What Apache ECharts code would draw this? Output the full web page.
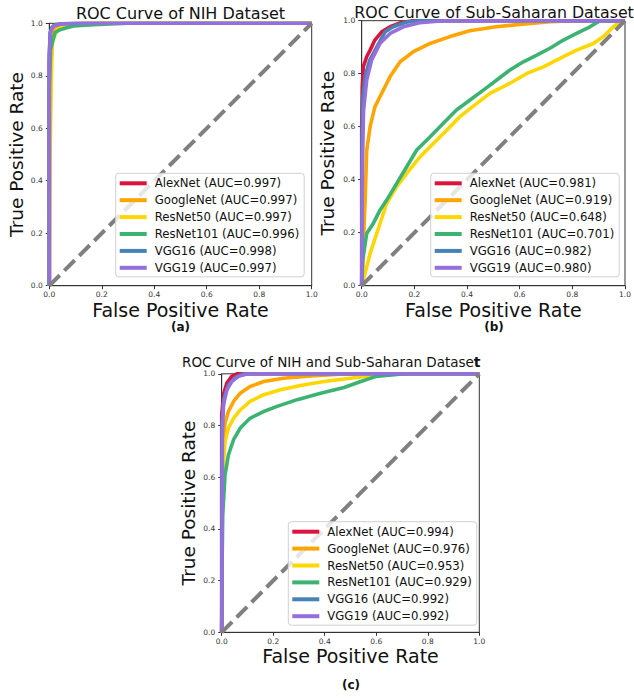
<!DOCTYPE html>
<html><head><meta charset="utf-8">
<script src="https://cdn.jsdelivr.net/npm/echarts@6/dist/echarts.min.js"></script>
<style>html,body{margin:0;padding:0;background:#fff}#c{width:634px;height:699px}</style>
</head><body><div id="c"></div>
<script>
const models = ['AlexNet','GoogleNet','ResNet50','ResNet101','VGG16','VGG19'];
const colors = ['#dc143c','#ffa500','#ffd700','#3cb371','#4682b4','#9370db'];
const tickLabels = ['0.0','0.2','0.4','0.6','0.8','1.0'];
const aucA = ['0.997','0.997','0.997','0.996','0.998','0.997'];
const aucB = ['0.981','0.919','0.648','0.701','0.982','0.980'];
const aucC = ['0.994','0.976','0.953','0.929','0.992','0.992'];
const panelLabels = ['(a)','(b)','(c)'];
const xName = 'False Positive Rate';
const yName = 'True Positive Rate';
const diagonal = [[0,0],[1,1]];

// (a) NIH dataset
const nihAlexNet   = [[0,0],[0,0.85],[0.003,0.95],[0.01,0.975],[0.02,0.988],[0.04,0.995],[0.08,0.998],[0.15,1],[1,1]];
const nihGoogleNet = [[0,0],[0,0.8],[0.004,0.94],[0.012,0.972],[0.025,0.985],[0.05,0.993],[0.1,0.998],[0.2,1],[1,1]];
const nihResNet50  = [[0,0],[0.003,0.5],[0.008,0.8],[0.012,0.93],[0.03,0.975],[0.06,0.99],[0.12,0.997],[0.2,1],[1,1]];
const nihResNet101 = [[0,0],[0,0.75],[0.005,0.9],[0.015,0.94],[0.022,0.965],[0.04,0.975],[0.066,0.983],[0.092,0.99],[0.168,0.995],[0.3,1],[1,1]];
const nihVGG16     = [[0,0],[0,0.88],[0.003,0.96],[0.01,0.985],[0.025,0.995],[0.06,0.999],[0.12,1],[1,1]];
const nihVGG19     = [[0,0],[0,0.84],[0.003,0.964],[0.015,0.99],[0.04,0.997],[0.1,1],[1,1]];

// (b) Sub-Saharan dataset
const ssAlexNet   = [[0,0],[0,0.6],[0.002,0.75],[0.006,0.826],[0.019,0.864],[0.032,0.889],[0.05,0.927],[0.076,0.958],[0.108,0.977],[0.146,0.992],[0.196,1],[1,1]];
const ssGoogleNet = [[0,0],[0.005,0.1],[0.01,0.25],[0.013,0.32],[0.019,0.51],[0.032,0.6],[0.05,0.675],[0.076,0.726],[0.108,0.789],[0.146,0.845],[0.196,0.883],[0.26,0.914],[0.335,0.94],[0.41,0.962],[0.51,0.977],[0.61,0.987],[0.715,0.996],[0.816,1],[1,1]];
const ssResNet50  = [[0,0],[0.013,0.047],[0.032,0.122],[0.057,0.197],[0.095,0.311],[0.133,0.374],[0.171,0.424],[0.222,0.487],[0.272,0.537],[0.323,0.587],[0.373,0.638],[0.437,0.688],[0.487,0.726],[0.563,0.764],[0.627,0.801],[0.69,0.826],[0.753,0.858],[0.816,0.889],[0.88,0.914],[0.918,0.94],[0.956,0.977],[0.987,1],[1,1]];
const ssResNet101 = [[0,0],[0.004,0.097],[0.019,0.197],[0.044,0.235],[0.07,0.286],[0.095,0.323],[0.133,0.386],[0.171,0.449],[0.209,0.512],[0.26,0.562],[0.31,0.613],[0.36,0.663],[0.41,0.7],[0.462,0.738],[0.513,0.776],[0.563,0.814],[0.614,0.845],[0.665,0.87],[0.715,0.896],[0.766,0.927],[0.816,0.952],[0.867,0.977],[0.905,1],[1,1]];
const ssVGG16     = [[0,0],[0.001,0.55],[0.003,0.7],[0.013,0.79],[0.03,0.85],[0.057,0.9],[0.089,0.958],[0.12,0.977],[0.17,0.995],[0.22,1],[1,1]];
const ssVGG19     = [[0,0],[0.002,0.35],[0.004,0.51],[0.007,0.66],[0.019,0.776],[0.038,0.852],[0.07,0.915],[0.108,0.952],[0.158,0.977],[0.22,0.992],[0.31,1],[1,1]];

// (c) NIH + Sub-Saharan dataset
const allAlexNet   = [[0,0],[0,0.84],[0.007,0.92],[0.02,0.964],[0.039,0.99],[0.059,1],[1,1]];
const allGoogleNet = [[0,0],[0.002,0.5],[0.004,0.712],[0.013,0.81],[0.026,0.854],[0.046,0.893],[0.072,0.925],[0.11,0.951],[0.163,0.97],[0.24,0.983],[0.345,0.992],[0.475,0.999],[0.6,1],[1,1]];
const allResNet50  = [[0,0],[0.002,0.45],[0.004,0.61],[0.013,0.738],[0.026,0.79],[0.046,0.828],[0.072,0.86],[0.11,0.893],[0.163,0.919],[0.228,0.938],[0.306,0.955],[0.397,0.97],[0.5,0.983],[0.58,0.993],[0.66,1],[1,1]];
const allResNet101 = [[0,0],[0.002,0.3],[0.004,0.454],[0.013,0.61],[0.026,0.686],[0.046,0.745],[0.072,0.79],[0.11,0.828],[0.163,0.854],[0.215,0.874],[0.293,0.9],[0.384,0.925],[0.475,0.947],[0.54,0.97],[0.6,0.99],[0.71,1],[1,1]];
const allVGG16     = [[0,0],[0.001,0.815],[0.009,0.905],[0.026,0.957],[0.052,0.986],[0.085,1],[1,1]];
const allVGG19     = [[0,0],[0.003,0.777],[0.007,0.88],[0.02,0.938],[0.039,0.97],[0.065,0.99],[0.098,0.999],[0.15,1],[1,1]];

const panelCurves = [
  [nihAlexNet, nihGoogleNet, nihResNet50, nihResNet101, nihVGG16, nihVGG19],
  [ssAlexNet, ssGoogleNet, ssResNet50, ssResNet101, ssVGG16, ssVGG19],
  [allAlexNet, allGoogleNet, allResNet50, allResNet101, allVGG16, allVGG19]
];
const panelAuc = [aucA, aucB, aucC];

// layout (not data)
const grids = [
  {left: 49.3, top: 23.3, width: 262.4, height: 262.4},
  {left: 361.7, top: 20.7, width: 263.3, height: 265},
  {left: 221.7, top: 373.8, width: 257.6, height: 258.5}
];
const legendPos = [
  {left: 115.7, top: 173.3},
  {left: 430.7, top: 173.3},
  {left: 288.3, top: 521.7}
];
const yNameGap = [23, 24.4, 23.4];
const FONT = "'DejaVu Sans', sans-serif";

const option = {
  animation: false,
  backgroundColor: '#fff',
  grid: grids.map(g => Object.assign({show: true, borderColor: '#333', borderWidth: 1, backgroundColor: 'transparent', containLabel: false}, g)),
  xAxis: [], yAxis: [], series: [], legend: [],
  graphic: [
    {type:'text', x:180.5, y:13.5, style:{text:'ROC Curve of NIH Dataset', font:"16px 'DejaVu Sans'", fill:'#111', align:'center', verticalAlign:'middle'}},
    {type:'text', x:494, y:12, style:{text:'ROC Curve of Sub-Saharan Dataset', font:"15.8px 'DejaVu Sans'", fill:'#111', align:'center', verticalAlign:'middle'}},
    {type:'text', x:182, y:362, style:{text:'{a|ROC Curve of NIH and Sub-Saharan Datase}{b|t}', align:'left', verticalAlign:'middle',
      rich:{a:{fontSize:13.5, fontFamily:'DejaVu Sans', fill:'#111'}, b:{fontSize:14, fontWeight:'bold', fontFamily:'DejaVu Sans', fill:'#111'}}}},
    {type:'text', x:180.5, y:327, style:{text:panelLabels[0], font:"bold 12px 'DejaVu Sans'", fill:'#111', align:'center', verticalAlign:'middle'}},
    {type:'text', x:494, y:327, style:{text:panelLabels[1], font:"bold 12px 'DejaVu Sans'", fill:'#111', align:'center', verticalAlign:'middle'}},
    {type:'text', x:351, y:685, style:{text:panelLabels[2], font:"bold 12px 'DejaVu Sans'", fill:'#111', align:'center', verticalAlign:'middle'}}
  ]
};

for (let p = 0; p < 3; p++) {
  option.xAxis.push({
    gridIndex: p, type: 'value', min: 0, max: 1, interval: 0.2,
    name: xName, nameLocation: 'middle', nameGap: 14.5,
    nameTextStyle: {fontSize: 19, fontFamily: FONT, color: '#111'},
    axisLine: {show: true, lineStyle: {color: '#333', width: 1}},
    axisTick: {show: true, inside: false, length: 3.5, lineStyle: {color: '#333'}},
    axisLabel: {fontSize: 7.5, fontFamily: FONT, color: '#333', margin: 5, formatter: v => tickLabels[Math.round(v / 0.2)]},
    splitLine: {show: false}
  });
  option.yAxis.push({
    gridIndex: p, type: 'value', min: 0, max: 1, interval: 0.2,
    name: yName, nameLocation: 'middle', nameGap: yNameGap[p],
    nameTextStyle: {fontSize: 18.5, fontFamily: FONT, color: '#111'},
    axisLine: {show: true, lineStyle: {color: '#333', width: 1}},
    axisTick: {show: true, inside: false, length: 3.5, lineStyle: {color: '#333'}},
    axisLabel: {fontSize: 7.5, fontFamily: FONT, color: '#333', margin: 6.5, formatter: v => tickLabels[Math.round(v / 0.2)]},
    splitLine: {show: false}
  });
  const names = [];
  for (let m = 0; m < models.length; m++) {
    const name = models[m] + ' (AUC=' + panelAuc[p][m] + ')';
    names.push(name);
    option.series.push({
      type: 'line', name: name, xAxisIndex: p, yAxisIndex: p,
      data: panelCurves[p][m], symbol: 'none', showSymbol: false,
      color: colors[m], lineStyle: {color: colors[m], width: 3.6, cap: 'butt', join: 'round'},
      clip: true, z: 2
    });
  }
  option.series.push({
    type: 'line', name: 'chance' + p, xAxisIndex: p, yAxisIndex: p,
    data: diagonal, symbol: 'none', silent: true,
    lineStyle: {color: '#808080', width: 4, type: [14.8, 6.4], cap: 'butt'}, z: 3
  });
  option.legend.push({
    data: names, orient: 'vertical', left: legendPos[p].left, top: legendPos[p].top,
    icon: 'rect', itemWidth: 27, itemHeight: 4, itemGap: 2.9,
    padding: [3, 5, 2, 4],
    backgroundColor: 'rgba(255,255,255,0.8)', borderColor: '#d0d0d0', borderWidth: 1, borderRadius: 3,
    textStyle: {fontSize: 11.7, fontFamily: FONT, color: '#111', lineHeight: 14, padding: [0, 0, 0, 3]},
    selectedMode: false, z: 10
  });
}

const chart = echarts.init(document.getElementById('c'), null, {renderer: 'svg'});
chart.setOption(option);
</script></body></html>
